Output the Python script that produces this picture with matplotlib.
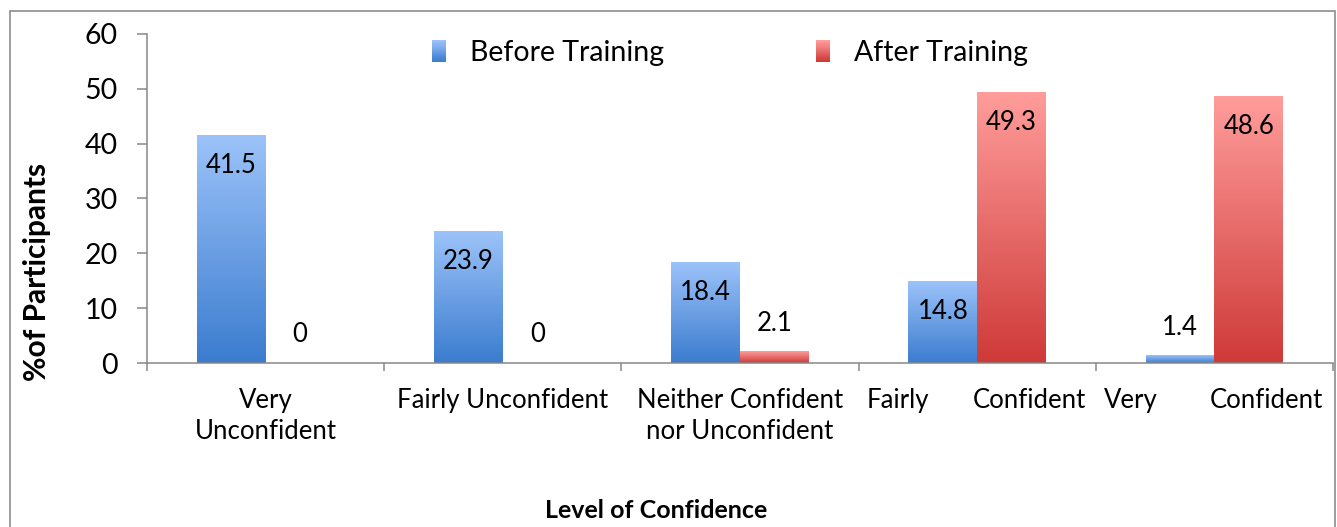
import matplotlib
matplotlib.use('Agg')
import matplotlib.pyplot as plt
import numpy as np
from matplotlib.colors import LinearSegmentedColormap, to_rgb
from matplotlib.patches import Rectangle
from matplotlib.legend_handler import HandlerBase
import matplotlib.transforms as mtrans

# ---- data ----
categories = ["Very\nUnconfident", "Fairly Unconfident",
              "Neither Confident\nnor Unconfident", "Fairly Confident", "Very Confident"]
justified = [False, False, False, True, True]
before = [41.5, 23.9, 18.4, 14.8, 1.4]
after = [0, 0, 2.1, 49.3, 48.6]
series_names = ["Before Training", "After Training"]
y_ticks = [0, 10, 20, 30, 40, 50, 60]
y_label = "%of Participants"
x_label = "Level of Confidence"

blue_top, blue_bot = '#9CC3F9', '#3B7CCF'
red_top, red_bot = '#FF9D9B', '#CE3A38'
spine_col = '#878787'

plt.rcParams['font.family'] = ['Lato', 'DejaVu Sans']

W, H = 1337, 527
fig = plt.figure(figsize=(W / 100, H / 100), dpi=100)
ax = fig.add_axes([147 / W, 164 / H, (1333 - 147) / W, 329 / H])

x = np.arange(len(categories))
w = 0.29
b1 = ax.bar(x - w / 2, before, w, color='none', linewidth=0)
b2 = ax.bar(x + w / 2, after, w, color='none', linewidth=0)


def grad_fill(bars, top, bot):
    cmap = LinearSegmentedColormap.from_list('g', [bot, top])
    grad = np.linspace(0, 1, 256).reshape(-1, 1)
    for p in bars:
        h = p.get_height()
        if h <= 0:
            continue
        x0 = p.get_x()
        x1 = x0 + p.get_width()
        ax.imshow(grad, extent=[x0, x1, 0, h], origin='lower', aspect='auto',
                  cmap=cmap, zorder=2, interpolation='bilinear')


grad_fill(b1, blue_top, blue_bot)
grad_fill(b2, red_top, red_bot)

ax.set_xlim(-0.5, len(categories) - 0.5)
ax.set_ylim(y_ticks[0], y_ticks[-1])

# data labels
for bars, vals in ((b1, before), (b2, after)):
    for p, v in zip(bars, vals):
        cx = p.get_x() + p.get_width() / 2
        if v >= 10:
            ax.annotate(f"{v:g}", xy=(cx, v), xytext=(0, -30), textcoords='offset pixels',
                        ha='center', va='center', fontsize=18.5, zorder=5)
        else:
            ax.annotate(f"{v:g}", xy=(cx, v), xytext=(0, 28), textcoords='offset pixels',
                        ha='center', va='center', fontsize=18.5, zorder=5)

# axes styling
for s in ('top', 'right'):
    ax.spines[s].set_visible(False)
for s in ('left', 'bottom'):
    ax.spines[s].set_color(spine_col)
    ax.spines[s].set_linewidth(1.1)
ax.set_yticks(y_ticks)
ax.tick_params(axis='y', length=7.2, width=1.1, color=spine_col, pad=14, labelsize=20.5)
ax.set_xticks(np.arange(len(categories) + 1) - 0.5)
ax.set_xticklabels([])
ax.tick_params(axis='x', length=6, width=1.1, color=spine_col)

# category labels
trans = mtrans.blended_transform_factory(ax.transData, ax.transAxes)
cat_fs = 18.5
for i, (lab, just) in enumerate(zip(categories, justified)):
    if just:
        words = lab.split(' ')
        ax.annotate(words[0], xy=(i - 0.5, 0), xycoords=trans, xytext=(8, -25),
                    textcoords='offset pixels', ha='left', va='top', fontsize=cat_fs)
        ax.annotate(words[-1], xy=(i + 0.5, 0), xycoords=trans, xytext=(-10, -25),
                    textcoords='offset pixels', ha='right', va='top', fontsize=cat_fs)
    else:
        ax.annotate(lab, xy=(i, 0), xycoords=trans, xytext=(0, -25),
                    textcoords='offset pixels', ha='center', va='top', fontsize=cat_fs,
                    linespacing=1.3, multialignment='center')

# axis titles
fig.text(37 / W, 1 - 272 / H, y_label, rotation=90, ha='center', va='center',
         fontsize=21.5, fontweight='bold')
fig.text(656 / W, 1 - 510 / H, x_label, ha='center', va='center',
         fontsize=18, fontweight='bold')


# legend with gradient handles
class HandlerGrad(HandlerBase):
    def __init__(self, top, bot, n=20):
        super().__init__()
        self.top = np.array(to_rgb(top))
        self.bot = np.array(to_rgb(bot))
        self.n = n

    def create_artists(self, legend, orig_handle, xdescent, ydescent, width, height,
                       fontsize, trans):
        arts = []
        hh = height * 1.25
        y0 = -ydescent - (hh - height) / 2
        for k in range(self.n):
            t = k / (self.n - 1)
            c = self.bot * (1 - t) + self.top * t
            r = Rectangle((-xdescent, y0 + hh * k / self.n), width, hh / self.n + 0.3,
                          facecolor=c, edgecolor='none', transform=trans)
            arts.append(r)
        return arts


h1 = Rectangle((0, 0), 1, 1)
h2 = Rectangle((0, 0), 1, 1)
for h, name, (top, bot), xpos in ((h1, series_names[0], (blue_top, blue_bot), 432),
                                  (h2, series_names[1], (red_top, red_bot), 816)):
    leg = fig.legend([h], [name], loc='center left', bbox_to_anchor=(xpos / W, 1 - 53 / H),
                     frameon=False, fontsize=20.5, borderpad=0, borderaxespad=0,
                     handlelength=0.5, handleheight=0.55, handletextpad=0.85,
                     handler_map={h: HandlerGrad(top, bot)})

# outer border
fig.patches.append(Rectangle((10 / W, -0.05), (1335 - 10) / W, 1 - 11 / H + 0.05,
                             transform=fig.transFigure, fill=False,
                             edgecolor='#8C8C8C', linewidth=1.2))

fig.savefig('out.png', dpi=100)
